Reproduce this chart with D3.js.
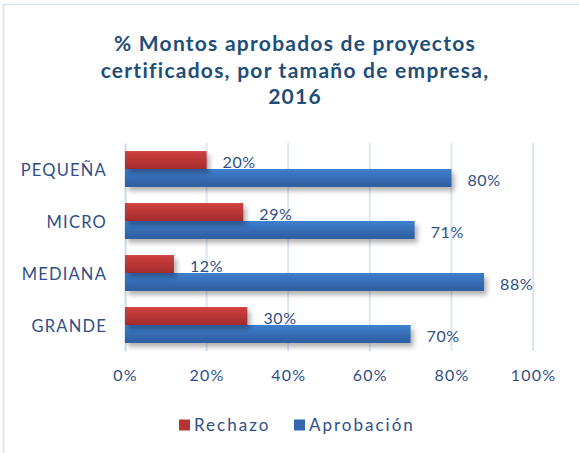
<!DOCTYPE html>
<html>
<head>
<meta charset="utf-8">
<script src="https://cdn.jsdelivr.net/npm/d3@7"></script>
<style>
  body { margin: 0; background: #fff; }
  svg text { font-family: "Lato", "Open Sans", sans-serif; }
</style>
</head>
<body>
<div class="container"></div>
<script>
// chart data
const categories = ["PEQUEÑA", "MICRO", "MEDIANA", "GRANDE"];
const rechazo = [20, 29, 12, 30];
const aprobacion = [80, 71, 88, 70];
const xTicks = [0, 20, 40, 60, 80, 100];
const seriesNames = ["Rechazo", "Aprobación"];
const titleLines = ["% Montos aprobados de proyectos", "certificados, por tamaño de empresa,", "2016"];

const width = 579, height = 453;
const textColor = "#2F4F85";
const titleColor = "#1F4E79";

const svg = d3.select(".container")
  .append("svg")
  .attr("width", width)
  .attr("height", height);

const defs = svg.append("defs");
function grad(id, top, bottom) {
  const g = defs.append("linearGradient").attr("id", id)
    .attr("x1", 0).attr("y1", 0).attr("x2", 0).attr("y2", 1);
  g.append("stop").attr("offset", "0%").attr("stop-color", top);
  g.append("stop").attr("offset", "100%").attr("stop-color", bottom);
}
grad("gRed", "#D04040", "#A32B2B");
grad("gBlue", "#3F7FCF", "#2D5C9E");

const shadow = defs.append("filter").attr("id", "shadow")
  .attr("x", "-10%").attr("y", "-30%").attr("width", "130%").attr("height", "180%");
shadow.append("feDropShadow")
  .attr("dx", 3).attr("dy", 4).attr("stdDeviation", 2.5)
  .attr("flood-color", "#000").attr("flood-opacity", 0.3);

// outer border (left + top visible)
svg.append("rect")
  .attr("x", 3.5).attr("y", 4.5)
  .attr("width", width + 20).attr("height", height + 20)
  .attr("fill", "none").attr("stroke", "#D6E2F0").attr("stroke-width", 1.5);

// title
svg.append("text")
  .attr("text-anchor", "middle")
  .attr("font-weight", "bold")
  .attr("font-size", 21)
  .attr("letter-spacing", 1.25)
  .attr("fill", titleColor)
  .selectAll("tspan")
  .data(titleLines)
  .join("tspan")
  .attr("x", 295)
  .attr("y", (d, i) => 51 + i * 26.5)
  .text(d => d);

const margin = { left: 125, right: 46, top: 143, bottom: 102 };

const x = d3.scaleLinear()
  .domain([0, 100])
  .range([margin.left, width - margin.right]);

const y = d3.scaleBand()
  .domain(categories)
  .range([margin.top, height - margin.bottom])
  .paddingInner(0.31)
  .paddingOuter(0.155);

const sub = d3.scaleBand()
  .domain(seriesNames)
  .range([0, y.bandwidth()]);

// gridlines
svg.append("g")
  .selectAll("line")
  .data(xTicks.slice(1))
  .join("line")
  .attr("x1", d => x(d)).attr("x2", d => x(d))
  .attr("y1", margin.top).attr("y2", height - margin.bottom)
  .attr("stroke", "#DCE6F2").attr("stroke-width", 2);

// x axis labels
const xAxis = svg.append("g")
  .attr("transform", `translate(0,${height - margin.bottom})`)
  .call(d3.axisBottom(x).tickValues(xTicks).tickFormat(d => d + "%").tickSize(0).tickPadding(19));
xAxis.select(".domain").remove();
xAxis.selectAll("text")
  .attr("font-size", 16)
  .attr("letter-spacing", 1.2)
  .attr("fill", textColor)
  .style("font-family", "Lato, sans-serif");

// y axis
const yAxis = svg.append("g")
  .attr("transform", `translate(${margin.left},0)`)
  .call(d3.axisLeft(y).tickSize(0).tickPadding(18));
yAxis.select(".domain").attr("stroke", "#D0DAE6").attr("stroke-width", 2);
yAxis.selectAll("text")
  .attr("font-size", 16.5)
  .attr("letter-spacing", 1.2)
  .attr("dy", "0.45em")
  .attr("fill", textColor)
  .style("font-family", "Lato, sans-serif");

const rows = categories.map((c, i) => ({ cat: c, Rechazo: rechazo[i], "Aprobación": aprobacion[i] }));
const fills = { "Rechazo": "url(#gRed)", "Aprobación": "url(#gBlue)" };

const groups = svg.append("g")
  .selectAll("g")
  .data(rows)
  .join("g")
  .attr("transform", d => `translate(0,${y(d.cat)})`);

// draw blue first then red so red sits above
groups.selectAll("rect")
  .data(d => seriesNames.slice().reverse().map(s => ({ s, v: d[s] })))
  .join("rect")
  .attr("x", x(0))
  .attr("y", d => sub(d.s))
  .attr("width", d => x(d.v) - x(0))
  .attr("height", sub.bandwidth())
  .attr("fill", d => fills[d.s])
  .attr("filter", "url(#shadow)");

groups.selectAll("text")
  .data(d => seriesNames.map(s => ({ s, v: d[s] })))
  .join("text")
  .attr("x", d => x(d.v) + 16)
  .attr("y", d => sub(d.s) + sub.bandwidth() / 2 + 2)
  .attr("dy", "0.35em")
  .attr("font-size", 16)
  .attr("letter-spacing", 0.6)
  .attr("fill", textColor)
  .text(d => d.v + "%");

// legend
const legendColors = ["#B83434", "#3469B0"];
const legend = svg.append("g").attr("transform", "translate(179,425)");
const legendX = [0, 115];
seriesNames.forEach((s, i) => {
  legend.append("rect")
    .attr("x", legendX[i]).attr("y", -5.5)
    .attr("width", 11).attr("height", 11)
    .attr("fill", legendColors[i]);
  legend.append("text")
    .attr("x", legendX[i] + 15).attr("y", 0)
    .attr("dy", "0.35em")
    .attr("font-size", 17)
    .attr("letter-spacing", 2)
    .attr("fill", textColor)
    .text(s);
});
</script>
</body>
</html>
